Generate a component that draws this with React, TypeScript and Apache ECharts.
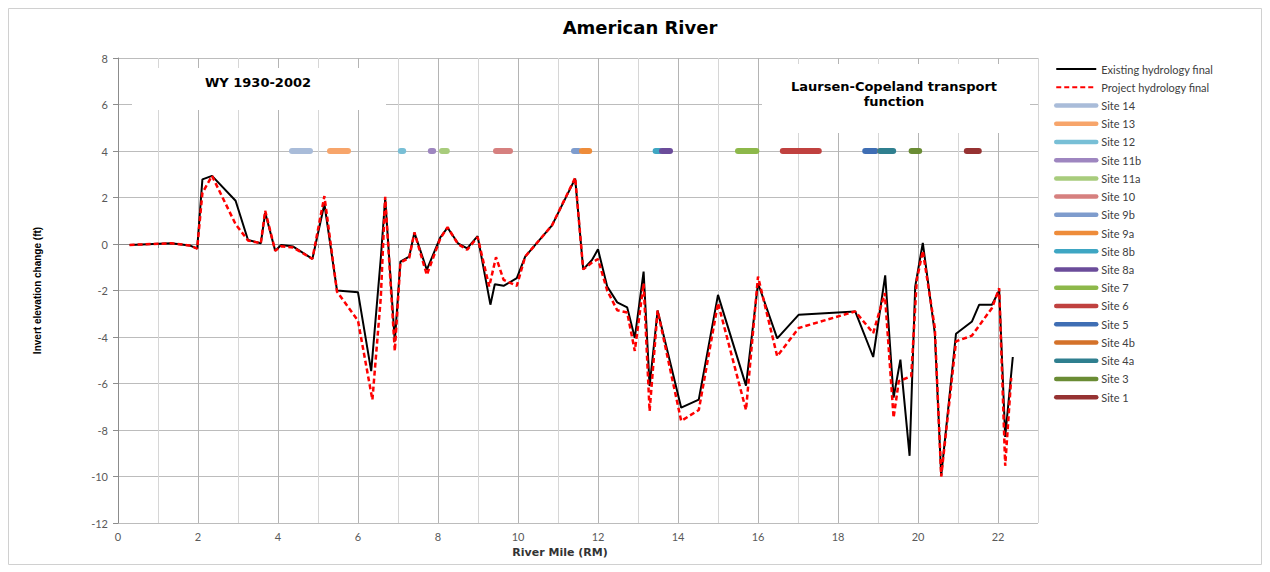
import React, { useEffect, useRef } from "react";
import * as echarts from "echarts";

const chartTitle = "American River";
const xAxisTitle = "River Mile (RM)";
const yAxisTitle = "Invert elevation change (ft)";
const periodLabel = "WY 1930-2002";
const methodLabel = "Laursen-Copeland transport\nfunction";

const existingName = "Existing hydrology final";
const projectName = "Project hydrology final";

const existingMiles = [
  0.29, 1.33, 1.79, 1.98, 2.11, 2.35, 2.94, 3.25, 3.57, 3.68, 3.93, 4.08, 4.38, 4.86, 5.16, 5.475,
  6.0, 6.33, 6.57, 6.68, 6.92, 7.06, 7.28, 7.41, 7.72, 8.06, 8.24, 8.5, 8.73, 8.99, 9.31, 9.42,
  9.64, 9.97, 10.18, 10.85, 11.43, 11.63, 11.85, 12.0, 12.23, 12.48, 12.73, 12.92, 13.14, 13.29,
  13.49, 14.08, 14.52, 15.0, 15.7, 16.0, 16.48, 17.02, 18.43, 18.88, 19.18, 19.39, 19.56, 19.79,
  19.93, 20.12, 20.42, 20.58, 20.95, 21.35, 21.53, 21.85, 22.03, 22.18, 22.37,
];
const existingValues = [
  -0.04, 0.03, -0.06, -0.2, 2.78, 2.93, 1.86, 0.17, 0.03, 1.34, -0.29, -0.04, -0.11, -0.64, 1.72, -2.0,
  -2.08, -5.47, -0.61, 1.95, -4.19, -0.76, -0.54, 0.49, -1.11, 0.29, 0.7, 0.03, -0.19, 0.34, -2.61, -1.73,
  -1.8, -1.47, -0.54, 0.8, 2.81, -1.09, -0.69, -0.23, -1.83, -2.51, -2.73, -4.04, -1.19, -6.11,
  -2.86, -7.04, -6.69, -2.19, -6.09, -1.69, -4.06, -3.04, -2.9, -4.86, -1.35, -6.61, -4.97, -9.11,
  -1.83, 0.05, -3.83, -9.97, -3.86, -3.33, -2.61, -2.61, -2.0, -8.3, -4.86,
];

const projectMiles = [
  0.29, 1.33, 1.79, 1.98, 2.11, 2.35, 2.94, 3.25, 3.57, 3.68, 3.93, 4.08, 4.38, 4.86, 5.16, 5.475,
  6.0, 6.36, 6.57, 6.68, 6.92, 7.06, 7.28, 7.41, 7.72, 8.06, 8.24, 8.5, 8.73, 8.99, 9.28, 9.45,
  9.64, 9.97, 10.18, 10.85, 11.43, 11.63, 11.85, 12.0, 12.23, 12.48, 12.73, 12.92, 13.14, 13.29,
  13.49, 14.08, 14.52, 15.0, 15.7, 16.0, 16.48, 17.02, 18.43, 18.88, 19.17, 19.39, 19.52, 19.83,
  19.97, 20.12, 20.42, 20.58, 20.95, 21.35, 21.85, 22.03, 22.18, 22.33,
];
const projectValues = [
  -0.04, 0.03, -0.06, -0.2, 2.2, 2.93, 0.85, 0.15, 0.03, 1.43, -0.29, -0.1, -0.15, -0.64, 2.06, -2.05,
  -3.3, -6.7, -2.3, 2.03, -4.6, -0.8, -0.6, 0.5, -1.33, 0.25, 0.72, 0.0, -0.25, 0.3, -1.83, -0.57,
  -1.54, -1.8, -0.54, 0.8, 2.85, -1.09, -0.8, -0.65, -2.0, -2.85, -2.95, -4.6, -1.7, -7.19,
  -2.86, -7.61, -7.14, -2.54, -7.14, -1.4, -4.83, -3.61, -2.9, -3.83, -2.11, -7.47, -5.9, -5.69,
  -1.54, -0.3, -3.6, -10.0, -4.19, -3.94, -2.75, -1.9, -9.54, -5.76,
];

const siteNames = [
  "Site 14", "Site 13", "Site 12", "Site 11b", "Site 11a", "Site 10", "Site 9b", "Site 9a",
  "Site 8b", "Site 8a", "Site 7", "Site 6", "Site 5", "Site 4b", "Site 4a", "Site 3", "Site 1",
];
const siteColors = [
  "#a9bcd9", "#f7a56b", "#78bfd6", "#9e86c0", "#a8cc7c", "#d6807f", "#7e9ccd", "#ee8c3a",
  "#3ea6c3", "#6b4c9a", "#8db84a", "#c0413f", "#3f6eb4", "#d4722a", "#2f7f8f", "#6a8c34", "#963232",
];
const siteStart = [
  4.35, 5.3, 7.07, 7.82, 8.1, 9.45, 11.4, 11.6, 13.44, 13.6, 15.5, 16.62, 18.68, 19.06, 19.06, 19.84, 21.22,
];
const siteEnd = [
  4.8, 5.75, 7.13, 7.88, 8.22, 9.8, 11.52, 11.78, 13.55, 13.8, 15.96, 17.52, 18.94, 19.12, 19.38, 20.03, 21.52,
];
const siteLevel = 4;

const xMin = 0;
const xMax = 23;
const yMin = -12;
const yMax = 8;

export default function App() {
  const ref = useRef<HTMLDivElement>(null);

  useEffect(() => {
    if (!ref.current) return;
    const chart = echarts.init(ref.current, undefined, { renderer: "svg" });

    const siteSeries = siteNames.map((name, i) => ({
      name,
      type: "line",
      data: [
        [siteStart[i], siteLevel],
        [siteEnd[i], siteLevel],
      ],
      symbol: "none",
      silent: true,
      z: 5,
      lineStyle: { color: siteColors[i], width: 6, cap: "round" },
      itemStyle: { color: siteColors[i] },
    }));

    const legendData = [
      { name: existingName },
      { name: projectName },
      ...siteNames.map((n) => ({ name: n, lineStyle: { width: 4.5 } })),
    ];

    chart.setOption({
      animation: false,
      backgroundColor: "#ffffff",
      grid: { left: 110, top: 50, width: 920, height: 465, containLabel: false },
      legend: {
        orient: "vertical",
        left: 1046,
        top: 54,
        padding: 0,
        itemWidth: 40,
        itemHeight: 14,
        itemGap: 4.23,
        selectedMode: false,
        itemStyle: { color: "rgba(0,0,0,0)", borderWidth: 0, borderColor: "rgba(0,0,0,0)" },
        textStyle: { fontFamily: "Lato", fontSize: 11, color: "#404040", lineHeight: 14 },
        data: legendData,
      },
      xAxis: {
        type: "value",
        min: xMin,
        max: xMax,
        interval: 1,
        name: xAxisTitle,
        nameLocation: "middle",
        nameGap: 22,
        nameTextStyle: {
          fontFamily: "DejaVu Sans",
          fontWeight: "bold",
          fontSize: 11,
          color: "#333",
          padding: [0, 36, 0, 0],
        },
        axisLine: { show: true, lineStyle: { color: "#8c8c8c", width: 1 } },
        axisTick: { show: true, length: 4, lineStyle: { color: "#8c8c8c" } },
        axisLabel: {
          margin: 8,
          fontFamily: "Lato",
          fontSize: 11,
          color: "#595959",
          formatter: (v: number) => (v % 2 === 0 ? String(v) : ""),
        },
        splitLine: { show: true, lineStyle: { color: ["#b4b4b4", "#d6d6d6"], width: 1 } },
      },
      yAxis: {
        type: "value",
        min: yMin,
        max: yMax,
        interval: 2,
        name: yAxisTitle,
        nameLocation: "middle",
        nameGap: 76,
        nameTextStyle: {
          fontFamily: "Liberation Sans",
          fontWeight: "bold",
          fontSize: 10,
          color: "#000",
        },
        axisLine: { show: true, lineStyle: { color: "#8c8c8c", width: 1 } },
        axisTick: { show: true, length: 5, lineStyle: { color: "#8c8c8c" } },
        axisLabel: { margin: 10, fontFamily: "Lato", fontSize: 11, color: "#595959" },
        splitLine: { show: true, lineStyle: { color: "#bcbcbc", width: 1 } },
      },
      graphic: [
        {
          type: "rect",
          z: 0,
          silent: true,
          shape: { x: 0.5, y: 0.5, width: 1253, height: 556 },
          style: { fill: "none", stroke: "#d0d0d0", lineWidth: 1 },
        },
        {
          type: "rect",
          z: 1,
          silent: true,
          shape: { x: 124, y: 60, width: 254, height: 42 },
          style: { fill: "#ffffff" },
        },
        {
          type: "rect",
          z: 1,
          silent: true,
          shape: { x: 754, y: 56, width: 268, height: 69 },
          style: { fill: "#ffffff" },
        },
        {
          type: "text",
          z: 10,
          x: 632,
          y: 19,
          style: {
            text: chartTitle,
            fontFamily: "DejaVu Sans",
            fontWeight: "bold",
            fontSize: 18,
            fill: "#000",
            textAlign: "center",
            textVerticalAlign: "middle",
          },
        },
        {
          type: "text",
          z: 10,
          x: 250,
          y: 74,
          style: {
            text: periodLabel,
            fontFamily: "DejaVu Sans",
            fontWeight: "bold",
            fontSize: 13,
            fill: "#000",
            textAlign: "center",
            textVerticalAlign: "middle",
          },
        },
        {
          type: "text",
          z: 10,
          x: 886,
          y: 86,
          style: {
            text: methodLabel,
            fontFamily: "DejaVu Sans",
            fontWeight: "bold",
            fontSize: 13,
            lineHeight: 14.5,
            fill: "#000",
            textAlign: "center",
            textVerticalAlign: "middle",
          },
        },
      ],
      series: [
        {
          name: existingName,
          type: "line",
          data: existingMiles.map((m, i) => [m, existingValues[i]]),
          symbol: "none",
          z: 3,
          lineStyle: { color: "#000000", width: 2 },
          itemStyle: { color: "#000000" },
        },
        {
          name: projectName,
          type: "line",
          data: projectMiles.map((m, i) => [m, projectValues[i]]),
          symbol: "none",
          z: 4,
          lineStyle: { color: "#ff0000", width: 2.5, type: [5, 3] },
          itemStyle: { color: "#ff0000" },
        },
        ...siteSeries,
      ],
    });

    return () => {
      chart.dispose();
    };
  }, []);

  return <div ref={ref} style={{ width: 1254, height: 557 }} />;
}
